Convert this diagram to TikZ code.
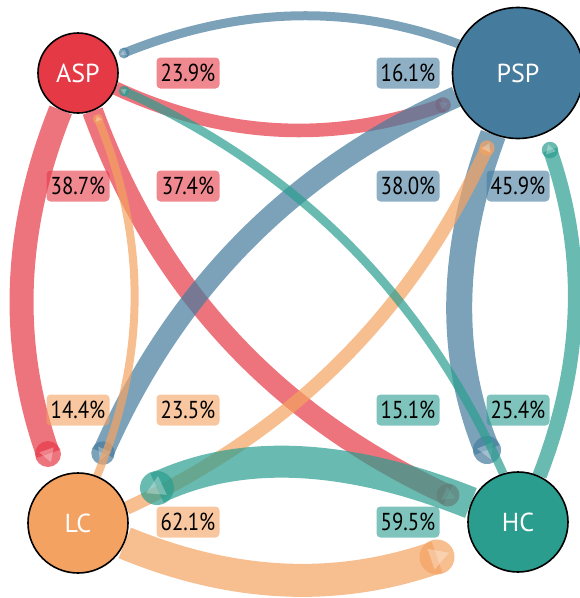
\documentclass[tikz,border=0pt]{standalone}
\usepackage{fontspec}
\setmainfont{PT Sans}
\newfontfamily\pctfont[FakeStretch=0.85]{PT Sans}
\usetikzlibrary{shapes.geometric}
\definecolor{cA}{HTML}{E63946}
\definecolor{cP}{HTML}{457B9D}
\definecolor{cL}{HTML}{F4A261}
\definecolor{cH}{HTML}{2A9D8F}
\pgfdeclarelayer{edges}
\pgfsetlayers{edges,main}
\tikzset{
  state/.style={circle, draw=black, line width=1.6pt, text=white,
    font=\fontsize{26}{28}\selectfont, inner sep=0pt},
  pct/.style={rounded corners=4pt, fill=#1, fill opacity=0.6, text opacity=1,
    text=black, font=\pctfont\fontsize{24.5}{26}\selectfont,
    minimum width=63pt, minimum height=31pt, inner sep=0pt},
  flow/.style={draw=#1, draw opacity=0.7},
  endcirc/.style={circle, fill=#1, fill opacity=0.7, draw=none, inner sep=0pt, pos=1},
  endtri/.style={isosceles triangle, isosceles triangle apex angle=60,
    fill=white, fill opacity=0.3, draw=none, inner sep=0pt, pos=1,
    sloped, allow upside down, anchor=center},
}
\begin{document}
\begin{tikzpicture}[x=1pt,y=-1pt]
\useasboundingbox (0,0) rectangle (580,598);

% nodes
\node[state, fill=cA, minimum size=80pt]  (ASP) at (78,73)  {ASP};
\node[state, fill=cP, minimum size=131pt] (PSP) at (518,73) {PSP};
\node[state, fill=cL, minimum size=100pt] (LC)  at (78,523) {LC};
\node[state, fill=cH, minimum size=100pt] (HC)  at (518,522) {HC};

% end points
\coordinate (eR1) at (443,105);
\coordinate (eR2) at (48,454);
\coordinate (eR3) at (448,495);
\coordinate (eB1) at (124,53);
\coordinate (eB2) at (103,453);
\coordinate (eB3) at (487,450);
\coordinate (eO1) at (98,119);
\coordinate (eO2) at (487,148);
\coordinate (eO3) at (437,557);
\coordinate (eT1) at (124,91);
\coordinate (eT2) at (550,150);
\coordinate (eT3) at (157,488);

\begin{pgfonlayer}{edges}
% ASP
\draw[flow=cA, line width=13.6pt] (ASP.-22) .. controls (223,138) and (332,144) .. (eR1)
  node[endcirc=cA, minimum size=15.6pt]{} node[endtri, minimum size=8pt]{};
\draw[flow=cA, line width=24pt] (ASP.-115) .. controls (13,229) and (9,344) .. (eR2)
  node[endcirc=cA, minimum size=26pt]{} node[endtri, minimum size=13pt]{};
\draw[flow=cA, line width=21pt] (ASP.-69) .. controls (157,288) and (276,416) .. (eR3)
  node[endcirc=cA, minimum size=23pt]{} node[endtri, minimum size=12pt]{};
% PSP
\draw[flow=cP, line width=9pt] (PSP.154) .. controls (352,4) and (240,6) .. (eB1)
  node[endcirc=cP, minimum size=11pt]{} node[endtri, minimum size=6pt]{};
\draw[flow=cP, line width=21.5pt] (PSP.201) .. controls (292,170) and (175,289) .. (eB2)
  node[endcirc=cP, minimum size=23.5pt]{} node[endtri, minimum size=12pt]{};
\draw[flow=cP, line width=26pt] (PSP.248) .. controls (450,250) and (448,355) .. (eB3)
  node[endcirc=cP, minimum size=28pt]{} node[endtri, minimum size=15pt]{};
% LC
\draw[flow=cL, line width=8pt] (LC.68) .. controls (147,356) and (147,238) .. (eO1)
  node[endcirc=cL, minimum size=10pt]{} node[endtri, minimum size=5pt]{};
\draw[flow=cL, line width=13.4pt] (LC.17) .. controls (292,432) and (412,312) .. (eO2)
  node[endcirc=cL, minimum size=15.4pt]{} node[endtri, minimum size=8pt]{};
\draw[flow=cL, line width=33pt] (LC.-23) .. controls (234,588) and (338,592) .. (eO3)
  node[endcirc=cL, minimum size=35pt]{} node[endtri, minimum size=19pt]{};
% HC
\draw[flow=cH, line width=8.6pt] (HC.107) .. controls (424,296) and (298,169) .. (eT1)
  node[endcirc=cH, minimum size=10.6pt]{} node[endtri, minimum size=5.5pt]{};
\draw[flow=cH, line width=14.5pt] (HC.65) .. controls (583,364) and (587,255) .. (eT2)
  node[endcirc=cH, minimum size=16.5pt]{} node[endtri, minimum size=9pt]{};
\draw[flow=cH, line width=32pt] (HC.158) .. controls (348,454) and (242,448) .. (eT3)
  node[endcirc=cH, minimum size=34pt]{} node[endtri, minimum size=18pt]{};
\end{pgfonlayer}

% labels
\node[pct=cA] (lAP) at (188,73)  {23.9\%};
\node[pct=cA] (lAL) at (78,186)  {38.7\%};
\node[pct=cA] (lAH) at (188,186) {37.4\%};
\node[pct=cP] (lPA) at (408,73)  {16.1\%};
\node[pct=cP] (lPL) at (408,186) {38.0\%};
\node[pct=cP] (lPH) at (518,186) {45.9\%};
\node[pct=cL] (lLA) at (78,410)  {14.4\%};
\node[pct=cL] (lLP) at (188,410) {23.5\%};
\node[pct=cL] (lLH) at (188,522) {62.1\%};
\node[pct=cH] (lHA) at (408,410) {15.1\%};
\node[pct=cH] (lHP) at (518,410) {25.4\%};
\node[pct=cH] (lHL) at (408,522) {59.5\%};
\end{tikzpicture}
\end{document}
